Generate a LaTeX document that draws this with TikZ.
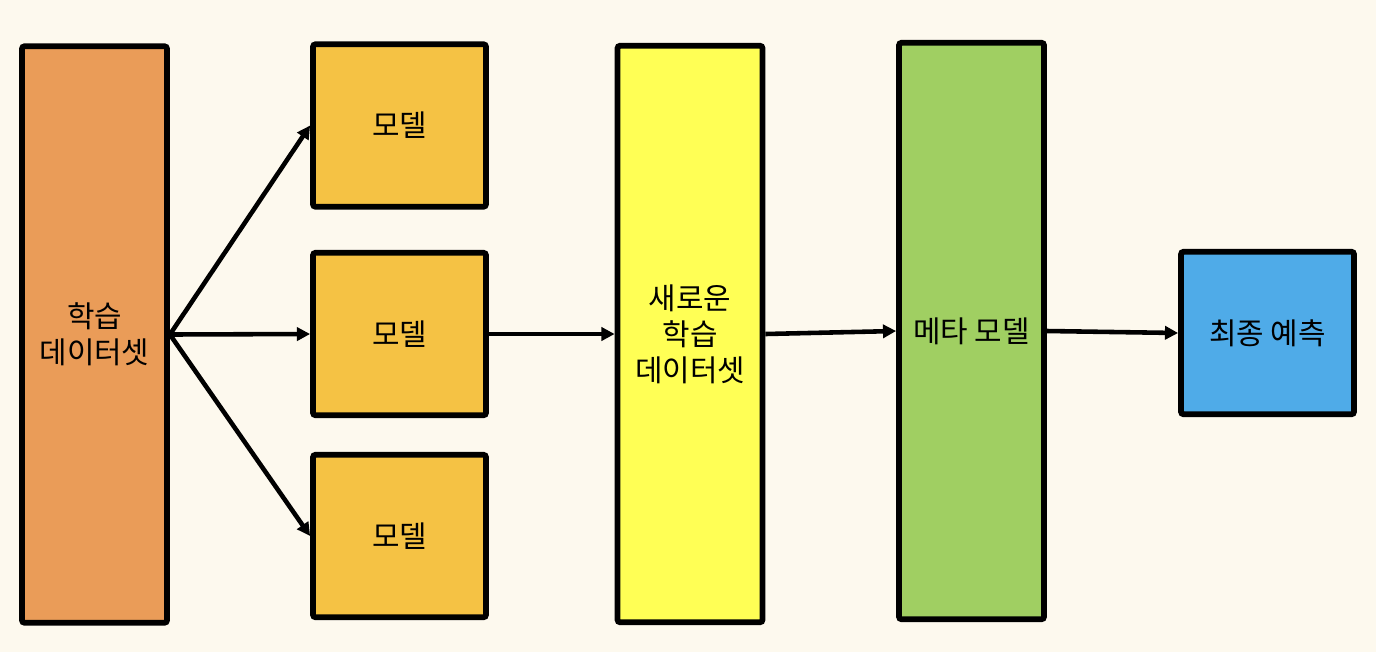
\documentclass[tikz,border=0pt]{standalone}
\usepackage{fontspec}
\setmainfont{Noto Sans CJK KR}
\usepackage{xcolor}
\usetikzlibrary{arrows.meta,positioning}

\definecolor{bgcream}{HTML}{FDF9EE}
\definecolor{dataorange}{HTML}{EA9C58}
\definecolor{modelyellow}{HTML}{F5C244}
\definecolor{newyellow}{HTML}{FFFF55}
\definecolor{metagreen}{HTML}{A0CF62}
\definecolor{finalblue}{HTML}{4FABE8}

\tikzset{
	blockbox/.style={draw=black, line width=3.3pt, rounded corners=1.5pt, inner sep=0pt,
		align=center, font=\fontsize{17pt}{20.5pt}\selectfont},
	tallbox/.style={blockbox, minimum width=2.9cm, minimum height=11.53cm},
	smallbox/.style={blockbox, minimum width=3.46cm, minimum height=3.25cm},
	flow/.style={line width=2.6pt, -{Triangle[length=7.5pt,width=7.5pt]}}
}

\begin{document}
\begin{tikzpicture}
		\fill[bgcream] (0,0) rectangle (27.52,-13.04);
		\useasboundingbox (0,0) rectangle (27.52,-13.04);

		% blocks
		\node[tallbox, fill=dataorange] (data) at (1.89,-6.69) {학습\\데이터셋};
		\node[smallbox, fill=modelyellow] (m1) at (7.99,-2.51) {모델};
		\node[smallbox, fill=modelyellow] (m2) at (7.99,-6.68) {모델};
		\node[smallbox, fill=modelyellow] (m3) at (7.99,-10.72) {모델};
		\node[tallbox, fill=newyellow] (newdata) at (13.8,-6.68) {새로운\\학습\\데이터셋};
		\node[tallbox, fill=metagreen] (meta) at (19.43,-6.62) {메타 모델};
		\node[smallbox, fill=finalblue] (final) at (25.35,-6.66) {최종 예측};

		% connectors
		\foreach \m in {m1,m2,m3} {
				\draw[flow] (data.east) -- (\m.west);
			}
		\draw[flow] (m2.east) -- (newdata.west);
		\draw[flow] (newdata.east) -- (meta.west);
		\draw[flow] (meta.east) -- (final.west);
	\end{tikzpicture}
\end{document}
